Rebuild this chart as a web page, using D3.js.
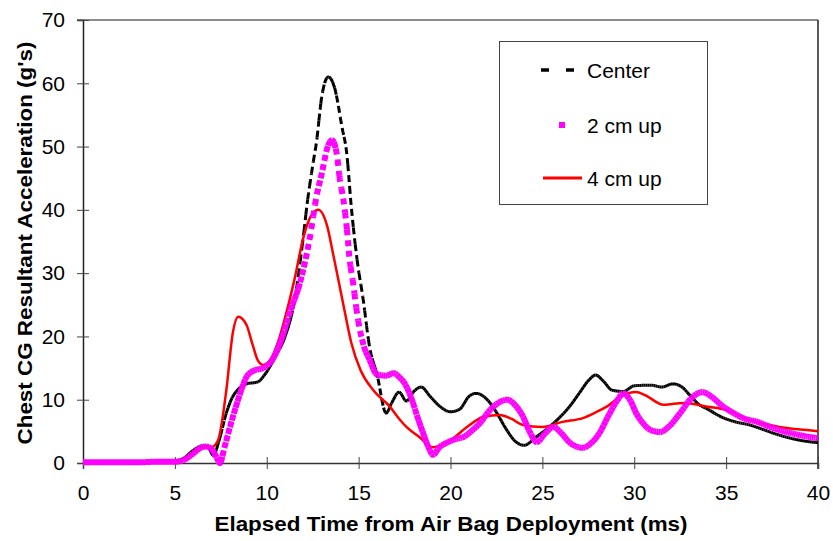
<!DOCTYPE html>
<html>
<head>
<meta charset="utf-8">
<script src="https://cdn.jsdelivr.net/npm/d3@7"></script>
<style>
  body { margin: 0; background: #fff; }
  text { font-family: "Liberation Sans", Arial, sans-serif; }
</style>
</head>
<body>
<div id="chart"></div>
<script>
// time (ms) and resultant acceleration (g)
var centerT = [0, 1, 2, 3, 4, 5, 5.5, 6, 6.5, 6.8, 7.1, 7.4, 7.8, 8.1, 8.4, 8.9, 9.5, 9.9, 10.5, 11, 11.5, 12, 12.2, 12.5, 12.7, 13, 13.35, 13.7, 14.1, 14.35, 14.6, 14.9, 15.25, 15.6, 16, 16.5, 16.8, 17.2, 17.6, 18, 18.4, 18.9, 19.4, 20, 20.5, 21, 21.4, 22, 22.5, 23, 23.5, 24, 24.7, 25.3, 25.8, 26.5, 27, 27.5, 27.9, 28.3, 28.8, 29.4, 30, 30.9, 31.5, 32.1, 32.6, 33, 33.5, 34, 34.8, 35.5, 36.3, 37, 37.9, 39, 40];
var centerG = [0.1, 0.1, 0.1, 0.1, 0.2, 0.3, 0.8, 2.0, 2.7, 2.5, 1.2, 3.5, 7.9, 10.2, 11.5, 12.5, 12.8, 14.0, 17.0, 20.0, 25.5, 36.0, 41.0, 47.0, 50.6, 58.0, 61.0, 59.2, 53.0, 49.0, 40.5, 32.5, 25.8, 18.3, 14.0, 7.9, 9.5, 11.2, 9.8, 11.3, 12.0, 10.5, 9.0, 8.1, 8.5, 10.5, 11.0, 10.0, 8.0, 5.5, 3.5, 2.8, 4.2, 5.5, 6.8, 9.0, 11.0, 13.0, 13.9, 13.0, 11.5, 11.3, 12.2, 12.3, 12.0, 12.5, 12.0, 10.8, 9.3, 8.5, 7.2, 6.5, 6.0, 5.3, 4.4, 3.6, 3.2];

var up2T = [0, 1, 2, 3, 4, 5, 5.5, 6, 6.4, 6.7, 7.0, 7.25, 7.45, 7.7, 8.0, 8.3, 8.55, 8.9, 9.3, 9.8, 10.3, 10.8, 11.3, 11.8, 12.35, 12.7, 13.0, 13.3, 13.55, 13.8, 14.0, 14.15, 14.35, 14.5, 14.7, 14.97, 15.25, 15.6, 16.0, 16.5, 16.9, 17.2, 17.5, 17.9, 18.2, 18.5, 18.8, 19.05, 19.4, 19.8, 20.3, 20.7, 21.2, 21.6, 22.1, 22.6, 23.1, 23.5, 23.95, 24.3, 24.7, 25.1, 25.6, 26.0, 26.5, 27.2, 27.6, 28.1, 28.6, 29.1, 29.4, 29.8, 30.1, 30.5, 30.9, 31.4, 31.9, 32.5, 33.1, 33.7, 34.2, 34.8, 35.4, 36, 36.7, 37.3, 37.9, 39, 40];
var up2G = [0.1, 0.1, 0.1, 0.1, 0.2, 0.2, 0.5, 1.5, 2.4, 2.6, 2.2, 1.0, 0.0, 2.5, 5.7, 8.7, 11.0, 13.6, 14.6, 15.0, 16.3, 19.5, 24.2, 28.4, 35.7, 42.0, 45.8, 49.8, 51.0, 49.0, 44.4, 42.0, 37.3, 32.5, 28.4, 22.6, 18.8, 16.3, 14.0, 13.8, 14.2, 13.6, 12.6, 10.0, 7.3, 4.8, 2.5, 1.3, 2.5, 3.2, 3.8, 4.1, 5.2, 6.3, 8.2, 9.5, 10.0, 9.2, 7.3, 5.0, 3.3, 4.5, 5.7, 4.8, 3.2, 2.4, 3.0, 4.7, 7.5, 10.0, 11.0, 9.8, 7.9, 6.2, 5.2, 4.9, 5.8, 7.9, 10.2, 11.2, 10.5, 9.0, 7.9, 7.0, 6.5, 5.8, 5.2, 4.4, 3.9];

var up4T = [0, 1, 2, 3, 4, 5, 5.5, 6, 6.5, 7.0, 7.35, 7.8, 8.15, 8.45, 8.9, 9.2, 9.5, 9.8, 10.2, 10.6, 11, 11.5, 12.0, 12.4, 12.8, 13.3, 13.6, 14.15, 14.6, 15.1, 15.8, 16.7, 17.2, 17.6, 18.3, 19.05, 20.0, 20.9, 21.8, 22.7, 23.3, 23.95, 25, 26.1, 27.2, 27.9, 28.5, 29.2, 30.1, 30.6, 31.6, 32.7, 34, 35, 36.3, 37.9, 39.4, 40];
var up4G = [0.1, 0.1, 0.1, 0.1, 0.2, 0.2, 0.5, 1.5, 2.4, 2.5, 3.6, 11.5, 20.5, 23.1, 21.8, 19.0, 16.3, 15.5, 16.3, 19.0, 23.0, 28.9, 35.7, 39.0, 40.0, 37.3, 33.2, 25.3, 19.0, 14.7, 11.5, 8.9, 7.0, 5.7, 4.1, 2.5, 3.6, 5.7, 7.3, 7.6, 7.0, 6.0, 5.7, 6.5, 7.1, 8.0, 8.9, 10.4, 11.2, 10.7, 9.2, 9.5, 8.9, 8.4, 6.8, 5.7, 5.2, 5.0];

var xTicks = [0, 5, 10, 15, 20, 25, 30, 35, 40];
var yTicks = [0, 10, 20, 30, 40, 50, 60, 70];
var legendLabels = ["Center", "2 cm up", "4 cm up"];

var width = 833, height = 541;
var margin = {left: 83, top: 20, right: 15, bottom: 78};

var svg = d3.select("#chart").append("svg")
   .attr("width", width)
   .attr("height", height);

var x = d3.scaleLinear().domain([0, 40]).range([margin.left, width - margin.right]);
var y = d3.scaleLinear().domain([0, 70]).range([height - margin.bottom, margin.top]);

// frame: top and right edges
svg.append("line")
   .attr("x1", x(0) - 6).attr("x2", x(40))
   .attr("y1", y(70)).attr("y2", y(70))
   .attr("stroke", "#666").attr("stroke-width", 1.5);
svg.append("line")
   .attr("x1", x(40)).attr("x2", x(40))
   .attr("y1", y(70)).attr("y2", y(0) + 6)
   .attr("stroke", "#222").attr("stroke-width", 1.5);

// axes, ticks cross the axis line
var xAxis = svg.append("g")
   .attr("transform", "translate(0," + y(0) + ")")
   .call(d3.axisBottom(x).tickValues(xTicks).tickSize(6).tickPadding(16));
xAxis.select(".domain").attr("stroke", "#333").attr("stroke-width", 1.5);
xAxis.selectAll(".tick line").attr("y1", -6).attr("stroke", "#444");
xAxis.selectAll(".tick text")
   .attr("font-size", 21)
   .attr("font-family", "'Liberation Sans', Arial, sans-serif")
   .attr("fill", "#000");

var yAxis = svg.append("g")
   .attr("transform", "translate(" + x(0) + ",0)")
   .call(d3.axisLeft(y).tickValues(yTicks).tickSize(6).tickPadding(12));
yAxis.select(".domain").attr("stroke", "#222").attr("stroke-width", 1.5);
yAxis.selectAll(".tick line").attr("x1", 6).attr("x2", -6).attr("stroke", "#444");
yAxis.selectAll(".tick text")
   .attr("font-size", 21)
   .attr("font-family", "'Liberation Sans', Arial, sans-serif")
   .attr("fill", "#000");

// axis titles
svg.append("text")
   .attr("x", 451).attr("y", 531)
   .attr("text-anchor", "middle")
   .attr("font-size", 21).attr("font-weight", "bold")
   .attr("textLength", 473).attr("lengthAdjust", "spacingAndGlyphs")
   .text("Elapsed Time from Air Bag Deployment (ms)");

svg.append("text")
   .attr("transform", "translate(32,243) rotate(-90)")
   .attr("text-anchor", "middle")
   .attr("font-size", 21).attr("font-weight", "bold")
   .attr("textLength", 403).attr("lengthAdjust", "spacingAndGlyphs")
   .text("Chest CG Resultant Acceleration (g's)");

var line = d3.line()
   .x(d => x(d[0]))
   .y(d => y(d[1]))
   .curve(d3.curveMonotoneX);

// the spreadsheet restarts the dash pattern on every 0.1 ms segment,
// so flat parts look solid and steep parts look dashed
function drawSeries(ts, gs, color, strokeW, dash) {
   var pts = ts.map((t, i) => [t, gs[i]]);
   var guide = svg.append("path")
      .attr("d", line(pts))
      .attr("fill", "none").attr("stroke", "none");
   var node = guide.node();
   var total = node.getTotalLength();
   var step = x(0.1) - x(0);
   var g = svg.append("g");

   if (!dash) {
      g.append("path")
         .attr("d", line(pts))
         .attr("fill", "none")
         .attr("stroke", color)
         .attr("stroke-width", strokeW)
         .attr("stroke-linejoin", "round");
      guide.remove();
      return;
   }

   var chunks = [];
   var cur = [];
   var startX = null;
   for (var s = 0; s <= total; s += 0.5) {
      var p = node.getPointAtLength(s);
      if (cur.length == 0) {
         cur.push(p); startX = p.x;
         continue;
      }
      cur.push(p);
      if (p.x - startX >= step) {
         chunks.push(cur);
         cur = [p];
         startX = p.x;
      }
   }
   if (cur.length > 1) chunks.push(cur);

   g.selectAll("path")
      .data(chunks)
      .join("path")
      .attr("d", c => "M" + c.map(p => p.x.toFixed(2) + "," + p.y.toFixed(2)).join("L"))
      .attr("fill", "none")
      .attr("stroke", color)
      .attr("stroke-width", strokeW)
      .attr("stroke-dasharray", dash);
   guide.remove();
}

drawSeries(centerT, centerG, "#000", 3, "7,4");
drawSeries(up4T, up4G, "#ff0000", 2.5, null);
drawSeries(up2T, up2G, "#ff00ff", 6, "6,5");

// legend
var lg = svg.append("g");
lg.append("rect")
   .attr("x", 499.5).attr("y", 41.5)
   .attr("width", 208).attr("height", 163)
   .attr("fill", "#fff").attr("stroke", "#444").attr("stroke-width", 1);

var rows = [70, 125, 178];
lg.selectAll(".lab")
   .data(legendLabels)
   .join("text")
   .attr("class", "lab")
   .attr("x", 587)
   .attr("y", (d, i) => rows[i])
   .attr("dy", "0.36em")
   .attr("font-size", 21)
   .text(d => d);

lg.append("line")
   .attr("x1", 541).attr("x2", 574)
   .attr("y1", rows[0]).attr("y2", rows[0])
   .attr("stroke", "#000").attr("stroke-width", 3.5)
   .attr("stroke-dasharray", "8,17");
lg.append("rect")
   .attr("x", 559).attr("y", rows[1] - 3)
   .attr("width", 6).attr("height", 6)
   .attr("fill", "#ff00ff");
lg.append("line")
   .attr("x1", 543).attr("x2", 582)
   .attr("y1", rows[2]).attr("y2", rows[2])
   .attr("stroke", "#ff0000").attr("stroke-width", 3);
</script>
</body>
</html>
